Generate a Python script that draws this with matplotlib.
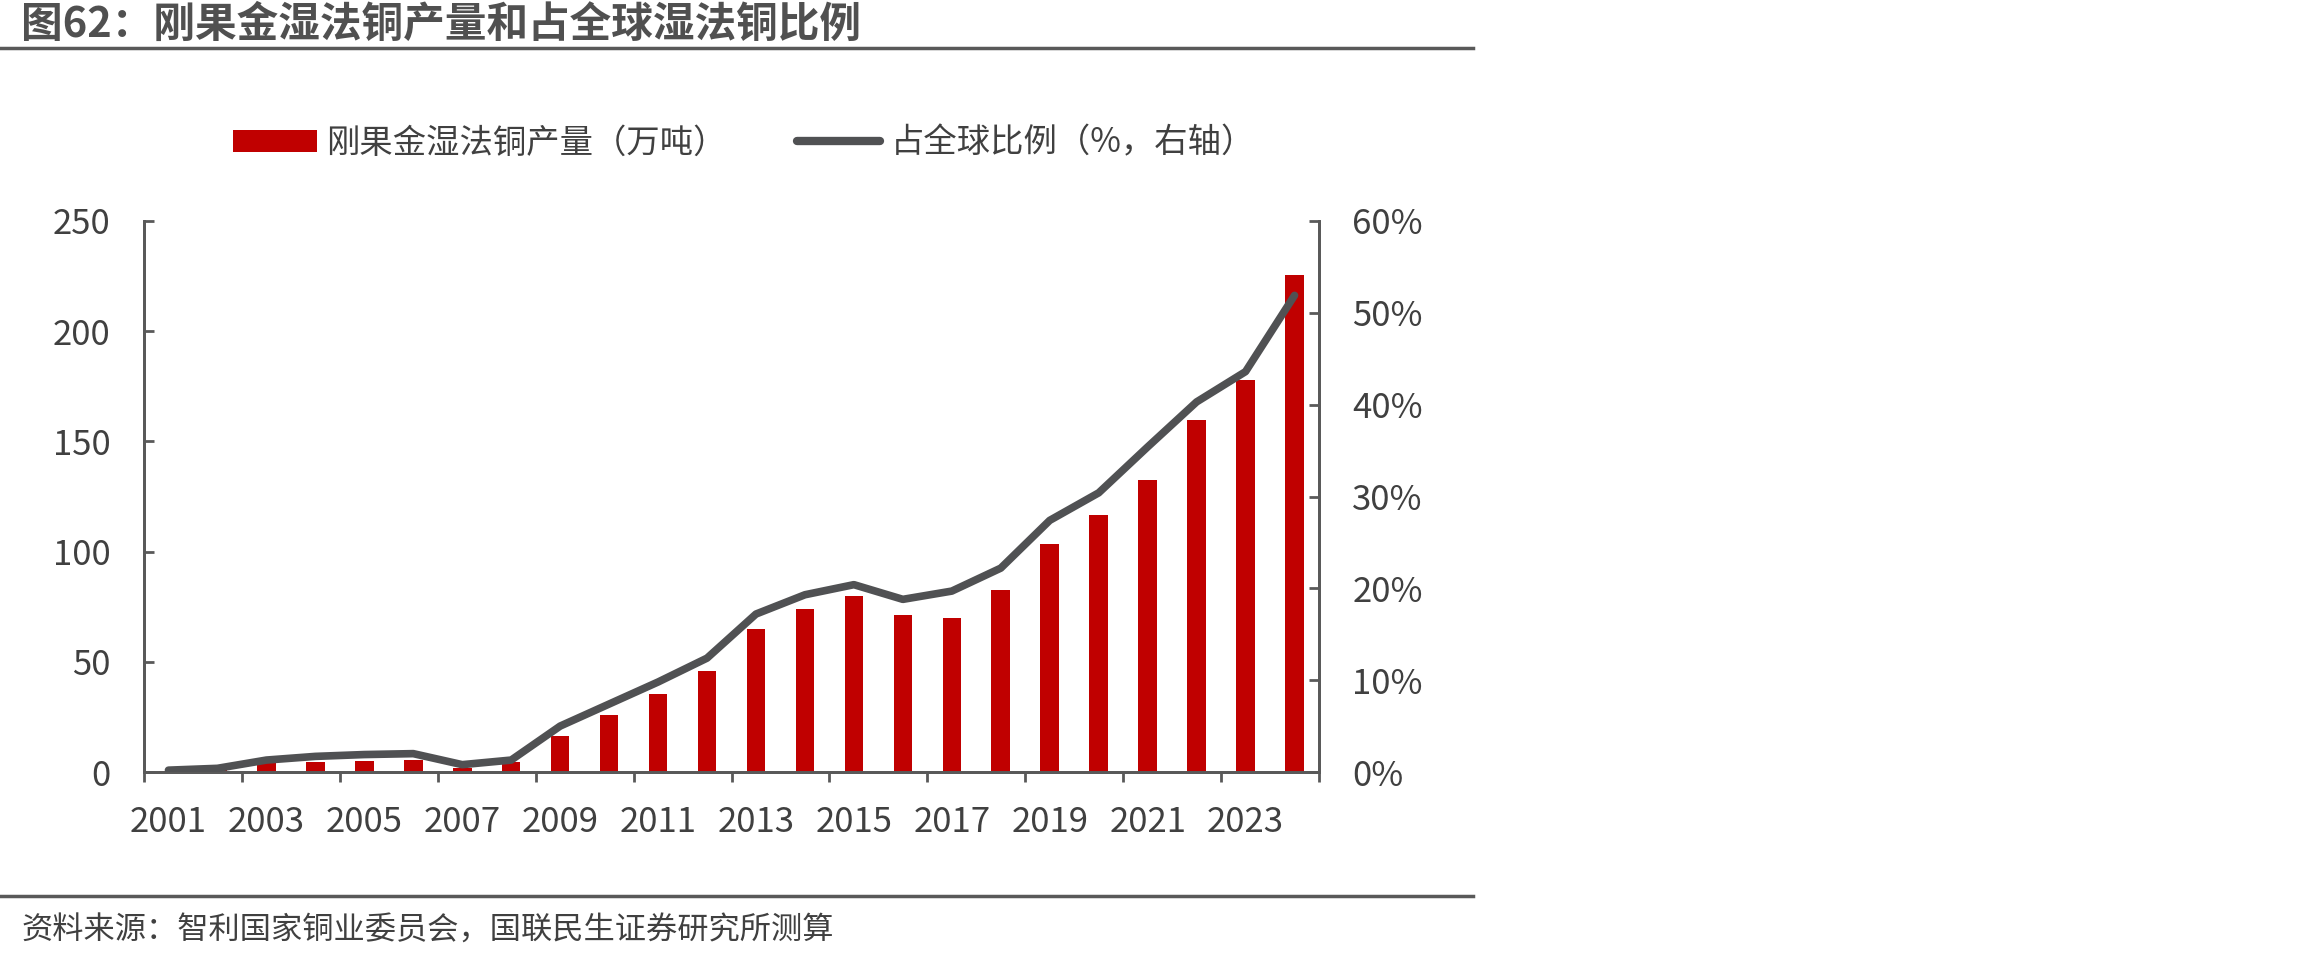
import numpy as np
import matplotlib
matplotlib.use('Agg')
import matplotlib.pyplot as plt
from matplotlib.lines import Line2D
from matplotlib.patches import Patch

plt.rcParams['font.family'] = ['Noto Sans CJK SC', 'DejaVu Sans']

# data
years = [str(y) for y in range(2001, 2025)]
production = [0.5, 1.2, 4, 4.5, 5, 5.5, 2, 4.5, 16.4, 26, 35.5, 46, 65, 74, 80, 71.3,
              70, 82.6, 103.5, 116.7, 132.5, 159.5, 178, 225.5]  # 万吨
share = [0.2, 0.4, 1.3, 1.7, 1.9, 2.0, 0.8, 1.3, 5.0, 7.4, 9.8, 12.4, 17.2, 19.3,
         20.4, 18.8, 19.7, 22.2, 27.4, 30.4, 35.4, 40.3, 43.6, 51.9]  # %

title = '图62：刚果金湿法铜产量和占全球湿法铜比例'
source = '资料来源：智利国家铜业委员会，国联民生证券研究所测算'
bar_label = '刚果金湿法铜产量（万吨）'
line_label = '占全球比例（%，右轴）'

red = '#C00000'
dark = '#505153'
axis_c = '#595959'
text_c = '#404040'
tick_fs = 25

W, H = 2310, 960
fig = plt.figure(figsize=(W / 100, H / 100), dpi=100)
ax = fig.add_axes([144 / W, 1 - 772 / H, (1319 - 144) / W, (772 - 221) / H])
ax2 = ax.twinx()

x = np.arange(len(years))
ax.bar(x, production, width=0.38, color=red, zorder=2)
ax2.plot(x, share, color=dark, lw=5.5, solid_capstyle='round', solid_joinstyle='round', zorder=3)

ax.set_xlim(-0.5, len(years) - 0.5)
ax.set_ylim(0, 250)
ax.set_yticks(np.arange(0, 251, 50))
ax2.set_ylim(0, 60)
ax2.set_yticks(np.arange(0, 61, 10))
ax2.set_yticklabels([f'{v}%' for v in range(0, 61, 10)])

# tick marks every two categories on the boundaries, labels on every other year
ax.set_xticks(np.arange(-0.5, len(years), 2))
ax.set_xticklabels([])
ax.set_xticks(x[::2], minor=True)
ax.set_xticklabels(years[::2], minor=True)
ax.tick_params(axis='x', which='major', direction='out', length=7.5, width=2, color=axis_c)
ax.tick_params(axis='x', which='minor', length=0, pad=24, labelsize=tick_fs, labelcolor=text_c)
ax.tick_params(axis='y', direction='in', length=7.5, width=2, color=axis_c, pad=24,
               labelsize=tick_fs, labelcolor=text_c)
ax2.tick_params(axis='y', direction='in', length=7.5, width=2, color=axis_c, pad=24,
                labelsize=tick_fs, labelcolor=text_c)

for a in (ax, ax2):
    a.spines['top'].set_visible(False)
    for s in ('left', 'right', 'bottom'):
        a.spines[s].set_color(axis_c)
        a.spines[s].set_linewidth(2)
ax2.set_zorder(ax.get_zorder() + 1)
ax2.patch.set_visible(False)

handles = [Patch(facecolor=red, edgecolor='none', label=bar_label),
           Line2D([0], [0], color=dark, lw=6, solid_capstyle='round', label=line_label)]
fig.legend(handles=handles, loc='center', bbox_to_anchor=(744 / W, 1 - 143 / H), ncol=2,
           frameon=False, fontsize=24, handlelength=2.5, handleheight=0.62,
           handletextpad=0.3, columnspacing=2.1, labelcolor=text_c)

fig.text(21 / W, 1 - 25 / H, title, fontsize=30, fontweight='bold', color='#505050',
         ha='left', va='center')
fig.add_artist(Line2D([0, 1473 / W], [1 - 48 / H, 1 - 48 / H], color='#595959', lw=2.5))
fig.add_artist(Line2D([0, 1473 / W], [1 - 896 / H, 1 - 896 / H], color='#595959', lw=2.5))
fig.text(21 / W, 1 - 931 / H, source, fontsize=22.5, color=text_c, ha='left', va='center')

fig.savefig('out.png', dpi=100)
